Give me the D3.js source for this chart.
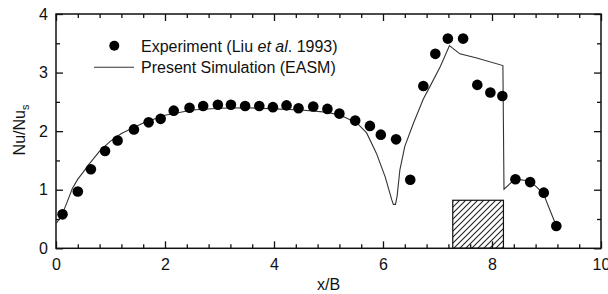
<!DOCTYPE html>
<html>
<head>
<meta charset="utf-8">
<script src="https://cdn.jsdelivr.net/npm/d3@7"></script>
<style>
  html, body { margin: 0; padding: 0; background: #fff; }
  svg { display: block; font-family: "Liberation Sans", Arial, sans-serif; }
</style>
</head>
<body>
<svg id="chart" width="608" height="294"></svg>
<script>
// ---- Data ----
const expX = [0.12, 0.40, 0.64, 0.90, 1.13, 1.43, 1.70, 1.92, 2.16, 2.45, 2.70, 2.97, 3.21, 3.47, 3.73, 3.98, 4.23, 4.45, 4.72, 4.98, 5.20, 5.49, 5.76, 5.96, 6.24, 6.50, 6.74, 6.96, 7.19, 7.47, 7.73, 7.97, 8.19, 8.43, 8.70, 8.95, 9.18];
const expY = [0.58, 0.97, 1.35, 1.66, 1.84, 2.03, 2.15, 2.21, 2.35, 2.40, 2.43, 2.45, 2.45, 2.43, 2.43, 2.41, 2.44, 2.39, 2.42, 2.38, 2.30, 2.18, 2.09, 1.94, 1.86, 1.17, 2.77, 3.32, 3.58, 3.58, 2.79, 2.66, 2.60, 1.18, 1.13, 0.95, 0.38];

const simX = [0, 0.10, 0.20, 0.30, 0.40, 0.50, 0.60, 0.80, 1.00, 1.20, 1.60, 2.00, 2.50, 3.00, 3.50, 4.00, 4.50, 5.00, 5.27, 5.52, 5.70, 5.88, 6.04, 6.16, 6.19, 6.23, 6.26, 6.31, 6.40, 6.56, 6.74, 6.86, 7.05, 7.22, 7.26, 7.41, 7.72, 8.20, 8.22, 8.42, 8.70, 8.94, 9.18];
const simY = [0.42, 0.55, 0.78, 1.02, 1.18, 1.30, 1.43, 1.66, 1.83, 1.96, 2.14, 2.27, 2.36, 2.39, 2.40, 2.38, 2.36, 2.32, 2.25, 2.14, 1.97, 1.62, 1.22, 0.83, 0.75, 0.75, 0.90, 1.34, 1.74, 2.14, 2.55, 2.76, 3.10, 3.46, 3.43, 3.32, 3.25, 3.12, 1.01, 1.18, 1.15, 0.94, 0.38];

// heated block: [x start, x end, height]
const heaterBlock = [7.28, 8.21, 0.82];

const xTicks = [0, 2, 4, 6, 8, 10];
const yTicks = [0, 1, 2, 3, 4];
const xMinor = [0.4, 0.8, 1.2, 1.6, 2.4, 2.8, 3.2, 3.6, 4.4, 4.8, 5.2, 5.6, 6.4, 6.8, 7.2, 7.6, 8.4, 8.8, 9.2, 9.6];
const yMinor = [0.5, 1.5, 2.5, 3.5];

const legendLabels = ["Experiment (Liu ", "et al", ". 1993)", "Present Simulation (EASM)"];
const xTitle = "x/B";

// ---- Layout ----
const svg = d3.select("#chart");
const L = 56, R = 601, T = 14, B = 248.3;
const x = d3.scaleLinear().domain([0, 10]).range([L, R]);
const y = d3.scaleLinear().domain([0, 4]).range([B, T]);

const defs = svg.append("defs");
const pat = defs.append("pattern")
  .attr("id", "hatch").attr("patternUnits", "userSpaceOnUse")
  .attr("width", 6).attr("height", 6);
pat.append("path").attr("d", "M-1,1 l2,-2 M0,6 l6,-6 M5,7 l2,-2")
  .attr("stroke", "#222").attr("stroke-width", 1.1);

// heated block
svg.append("rect")
  .attr("x", x(heaterBlock[0])).attr("y", y(heaterBlock[2]))
  .attr("width", x(heaterBlock[1]) - x(heaterBlock[0]))
  .attr("height", y(0) - y(heaterBlock[2]))
  .attr("fill", "url(#hatch)").attr("stroke", "#111").attr("stroke-width", 1.2);

// axes
function styleAxis(g) {
  g.select(".domain").remove();
  g.selectAll("line").attr("stroke", "#111").attr("stroke-width", 1.3);
  g.selectAll("text").attr("font-size", 16).attr("fill", "#111")
    .attr("font-family", "'Liberation Sans', Arial, sans-serif");
}
const MAJ = 7, MIN = 4;
svg.append("g").attr("transform", `translate(0,${B})`)
  .call(d3.axisBottom(x).tickValues(xTicks).tickFormat(d3.format("d")).tickSizeInner(-MAJ).tickSizeOuter(0).tickPadding(10))
  .call(styleAxis);
svg.append("g").attr("transform", `translate(0,${B})`)
  .call(d3.axisBottom(x).tickValues(xMinor).tickFormat("").tickSizeInner(-MIN).tickSizeOuter(0))
  .call(styleAxis);
svg.append("g").attr("transform", `translate(0,${T})`)
  .call(d3.axisTop(x).tickValues(xTicks).tickFormat("").tickSizeInner(-MAJ).tickSizeOuter(0))
  .call(styleAxis);
svg.append("g").attr("transform", `translate(0,${T})`)
  .call(d3.axisTop(x).tickValues(xMinor).tickFormat("").tickSizeInner(-MIN).tickSizeOuter(0))
  .call(styleAxis);
svg.append("g").attr("transform", `translate(${L},0)`)
  .call(d3.axisLeft(y).tickValues(yTicks).tickFormat(d3.format("d")).tickSizeInner(-MAJ).tickSizeOuter(0).tickPadding(8))
  .call(styleAxis);
svg.append("g").attr("transform", `translate(${L},0)`)
  .call(d3.axisLeft(y).tickValues(yMinor).tickFormat("").tickSizeInner(-MIN).tickSizeOuter(0))
  .call(styleAxis);
svg.append("g").attr("transform", `translate(${R},0)`)
  .call(d3.axisRight(y).tickValues(yTicks).tickFormat("").tickSizeInner(-MAJ).tickSizeOuter(0))
  .call(styleAxis);
svg.append("g").attr("transform", `translate(${R},0)`)
  .call(d3.axisRight(y).tickValues(yMinor).tickFormat("").tickSizeInner(-MIN).tickSizeOuter(0))
  .call(styleAxis);

// frame
svg.append("rect").attr("x", L).attr("y", T).attr("width", R - L).attr("height", B - T)
  .attr("fill", "none").attr("stroke", "#111").attr("stroke-width", 1.5);

// simulation line
const simData = simX.map((v, i) => [v, simY[i]]);
svg.append("path").datum(simData)
  .attr("d", d3.line().x(d => x(d[0])).y(d => y(d[1])))
  .attr("fill", "none").attr("stroke", "#333").attr("stroke-width", 1.1);

// experiment points
const expData = expX.map((v, i) => [v, expY[i]]);
svg.append("g").selectAll("circle").data(expData).join("circle")
  .attr("cx", d => x(d[0])).attr("cy", d => y(d[1])).attr("r", 5.3).attr("fill", "#000");

// legend
svg.append("circle").attr("cx", 114.3).attr("cy", 45.7).attr("r", 5).attr("fill", "#000");
const t1 = svg.append("text").attr("x", 141).attr("y", 51.5).attr("font-size", 16).attr("fill", "#111");
t1.append("tspan").text(legendLabels[0]);
t1.append("tspan").attr("font-style", "italic").text(legendLabels[1]);
t1.append("tspan").text(legendLabels[2]);
svg.append("line").attr("x1", 94).attr("x2", 134).attr("y1", 67.3).attr("y2", 67.3)
  .attr("stroke", "#333").attr("stroke-width", 1.1);
svg.append("text").attr("x", 141).attr("y", 73).attr("font-size", 16).attr("fill", "#111").text(legendLabels[3]);

// axis titles
svg.append("text").attr("x", (L + R) / 2).attr("y", 290).attr("text-anchor", "middle")
  .attr("font-size", 16).attr("fill", "#111").text(xTitle);
const yt = svg.append("text").attr("transform", `translate(25,130) rotate(-90)`)
  .attr("text-anchor", "middle").attr("font-size", 16).attr("fill", "#111");
yt.append("tspan").text("Nu/Nu");
yt.append("tspan").attr("font-size", 11).attr("dy", 4).text("s");
</script>
</body>
</html>
